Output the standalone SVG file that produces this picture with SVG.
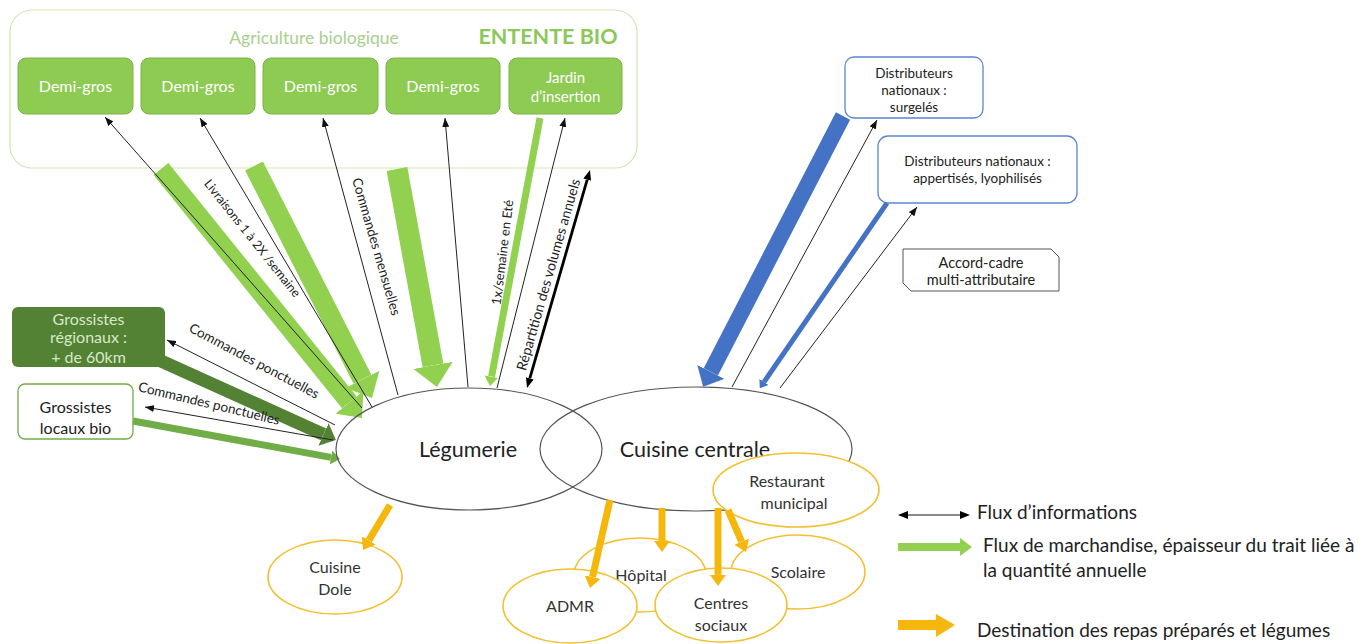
<svg xmlns="http://www.w3.org/2000/svg" width="1366" height="644" viewBox="0 0 1366 644">
<style>
text{font-family:Lato,"Liberation Sans",sans-serif;fill:#222}
.box{fill:#8dcb52;stroke:#7ab444;stroke-width:1}
.bt{fill:#fff;font-size:16px;text-anchor:middle}
.dist{fill:#fff;stroke:#5b86cf;stroke-width:1.3}
.dt{font-size:13.5px;text-anchor:middle}
.yel{fill:#fff;stroke:#f2c030;stroke-width:1.6}
.yt{font-size:16px;text-anchor:middle;fill:#333}
.info{stroke:#222;stroke-width:1;fill:none;marker-end:url(#ah)}
.lbl{font-size:13.5px;text-anchor:middle;fill:#222}
.lg{font-size:19px;fill:#222}
.gr{font-size:16px;text-anchor:middle}
</style>
<defs>
<marker id="ah" viewBox="0 0 10 10" refX="10" refY="5" markerUnits="userSpaceOnUse" markerWidth="9" markerHeight="7" orient="auto" preserveAspectRatio="none"><path d="M0,0L10,5L0,10z" fill="#111"/></marker>
<marker id="ahs" viewBox="0 0 10 10" refX="0" refY="5" markerUnits="userSpaceOnUse" markerWidth="10" markerHeight="8" orient="auto-start-reverse" preserveAspectRatio="none"><path d="M0,0L10,5L0,10z" fill="#000"/></marker>
<marker id="mLg" viewBox="0 0 10 10" refX="0" refY="5" markerUnits="strokeWidth" markerWidth="1.05" markerHeight="1.9" orient="auto" preserveAspectRatio="none"><path d="M0,0L10,5L0,10z" fill="#92d050"/></marker>
<marker id="mDg" viewBox="0 0 10 10" refX="0" refY="5" markerUnits="strokeWidth" markerWidth="1.05" markerHeight="1.9" orient="auto" preserveAspectRatio="none"><path d="M0,0L10,5L0,10z" fill="#548235"/></marker>
<marker id="mMg" viewBox="0 0 10 10" refX="0" refY="5" markerUnits="strokeWidth" markerWidth="1.3" markerHeight="2" orient="auto" preserveAspectRatio="none"><path d="M0,0L10,5L0,10z" fill="#70ad47"/></marker>
<marker id="mBl" viewBox="0 0 10 10" refX="0" refY="5" markerUnits="strokeWidth" markerWidth="1.05" markerHeight="1.9" orient="auto" preserveAspectRatio="none"><path d="M0,0L10,5L0,10z" fill="#4472c4"/></marker>
<marker id="mBn" viewBox="0 0 10 10" refX="0" refY="5" markerUnits="strokeWidth" markerWidth="1.5" markerHeight="2.2" orient="auto" preserveAspectRatio="none"><path d="M0,0L10,5L0,10z" fill="#4472c4"/></marker>
<marker id="mYe" viewBox="0 0 10 10" refX="0" refY="5" markerUnits="strokeWidth" markerWidth="1.6" markerHeight="2.3" orient="auto" preserveAspectRatio="none"><path d="M0,0L10,5L0,10z" fill="#f5b70c"/></marker>
</defs>

<g id="entente-bio">
<rect x="10" y="10" width="627" height="158" rx="22" fill="none" stroke="#cfe6b4" stroke-width="1.2"/>
<text x="314" y="44" text-anchor="middle" style="font-size:17.5px;fill:#a8d08d">Agriculture biologique</text>
<text x="548" y="44" text-anchor="middle" style="font-size:21.5px;font-weight:bold;fill:#8cc75a">ENTENTE BIO</text>
</g>
<g id="demi-gros-1"><rect class="box" x="18" y="58" width="115" height="56" rx="8"/><text class="bt" x="75.5" y="92">Demi-gros</text></g>
<g id="demi-gros-2"><rect class="box" x="141" y="58" width="114" height="56" rx="8"/><text class="bt" x="198" y="92">Demi-gros</text></g>
<g id="demi-gros-3"><rect class="box" x="263" y="58" width="115" height="56" rx="8"/><text class="bt" x="320.5" y="92">Demi-gros</text></g>
<g id="demi-gros-4"><rect class="box" x="386" y="58" width="114" height="56" rx="8"/><text class="bt" x="443" y="92">Demi-gros</text></g>
<g id="jardin"><rect class="box" x="509" y="58" width="113" height="56" rx="8"/><text class="bt" x="565.5" y="83" style="font-size:15px">Jardin</text><text class="bt" x="565.5" y="102" style="font-size:15px">d’insertion</text></g>

<g id="grossistes-regionaux"><rect x="12" y="307" width="153" height="60" rx="6" fill="#548235"/>
<text class="gr" x="88.5" y="325" style="fill:#d6e9c6">Grossistes</text>
<text class="gr" x="88.5" y="343" style="fill:#d6e9c6">régionaux :</text>
<text class="gr" x="88.5" y="363" style="fill:#d6e9c6">+ de 60km</text></g>
<g id="grossistes-locaux"><rect x="18" y="384" width="115" height="55" rx="7" fill="#fff" stroke="#70ad47" stroke-width="1.3"/>
<text class="gr" x="75.5" y="413">Grossistes</text>
<text class="gr" x="75.5" y="434">locaux bio</text></g>

<g id="dist-surgeles"><rect class="dist" x="845" y="57" width="138" height="61" rx="9"/>
<text class="dt" x="914" y="78">Distributeurs</text><text class="dt" x="914" y="95">nationaux :</text><text class="dt" x="914" y="112">surgelés</text></g>
<g id="dist-appertises"><rect class="dist" x="878" y="136" width="199" height="67" rx="10"/>
<text class="dt" x="977.5" y="166">Distributeurs nationaux :</text><text class="dt" x="977.5" y="183">appertisés, lyophilisés</text></g>
<g id="accord-cadre"><path d="M903,249H1051L1059,257V291H911L903,283Z" fill="#fff" stroke="#555" stroke-width="1"/>
<text x="981" y="268" text-anchor="middle" style="font-size:14.5px">Accord-cadre</text>
<text x="981" y="285" text-anchor="middle" style="font-size:14.5px">multi-attributaire</text></g>

<g id="connectors">
<line x1="161" y1="169" x2="349.4" y2="402.4" stroke="#92d050" stroke-width="19" marker-end="url(#mLg)"/>
<line x1="254" y1="166" x2="362.5" y2="379.3" stroke="#92d050" stroke-width="20" marker-end="url(#mLg)"/>
<line x1="397" y1="169" x2="433" y2="365.4" stroke="#92d050" stroke-width="21" marker-end="url(#mLg)"/>
<line x1="540" y1="118" x2="491.6" y2="376.5" stroke="#92d050" stroke-width="7"/>
<path d="M484.5,375.5L490,386L498,378Z" fill="#92d050"/>
<line x1="150" y1="356" x2="323.5" y2="434.4" stroke="#548235" stroke-width="13" marker-end="url(#mDg)"/>
<line x1="133" y1="421" x2="331" y2="457.4" stroke="#70ad47" stroke-width="7" marker-end="url(#mMg)"/>
<line x1="843" y1="116" x2="710.8" y2="371.9" stroke="#4472c4" stroke-width="16" marker-end="url(#mBl)"/>
<line x1="887" y1="203" x2="764" y2="382" stroke="#4472c4" stroke-width="5" marker-end="url(#mBn)"/>

<line class="info" x1="362" y1="408" x2="105" y2="117"/>
<line class="info" x1="372" y1="407" x2="200" y2="118"/>
<line class="info" x1="398" y1="395" x2="323" y2="118"/>
<line class="info" x1="468" y1="387" x2="445" y2="118"/>
<line class="info" x1="497" y1="388" x2="565" y2="118"/>
<line class="info" x1="335" y1="425" x2="167" y2="340"/>
<line class="info" x1="333" y1="440" x2="145" y2="407"/>
<line class="info" x1="732" y1="387" x2="877" y2="120"/>
<line class="info" x1="780" y1="388" x2="917" y2="207"/>
<line x1="529.8" y1="378.4" x2="587.2" y2="179.6" stroke="#000" stroke-width="2.8" marker-start="url(#ahs)" marker-end="url(#ahs)"/>

<text class="lbl" transform="translate(249,241) rotate(51.5)" style="font-size:12.5px">Livraisons 1 à 2X /semaine</text>
<text class="lbl" transform="translate(372,248) rotate(73.7)">Commandes mensuelles</text>
<text class="lbl" transform="translate(507,253) rotate(-83)" style="font-size:13px">1x/semaine en Eté</text>
<text class="lbl" transform="translate(553,276) rotate(-74)" style="font-size:14px">Répartition des volumes annuels</text>
<text class="lbl" transform="translate(252,365) rotate(28)">Commandes ponctuelles</text>
<text class="lbl" transform="translate(208,408) rotate(13.5)">Commandes ponctuelles</text>
</g>

<g id="legumerie"><ellipse cx="469" cy="449" rx="133" ry="61" fill="none" stroke="#555" stroke-width="1.2"/>
<text x="468" y="457" text-anchor="middle" style="font-size:21.5px">Légumerie</text></g>
<g id="cuisine-centrale"><ellipse cx="696" cy="449" rx="156" ry="62" fill="none" stroke="#555" stroke-width="1.2"/>
<text x="695" y="457" text-anchor="middle" style="font-size:21.5px">Cuisine centrale</text></g>

<g id="cuisine-dole"><ellipse class="yel" cx="335" cy="577" rx="67" ry="37"/><text class="yt" x="335" y="573">Cuisine</text><text class="yt" x="335" y="595">Dole</text></g>
<g id="restaurant-municipal"><ellipse class="yel" cx="796" cy="490" rx="83" ry="37"/><text class="yt" x="787" y="487">Restaurant</text><text class="yt" x="794" y="509">municipal</text></g>
<g id="hopital"><ellipse class="yel" cx="640" cy="575" rx="66" ry="37"/><text class="yt" x="641" y="581">Hôpital</text></g>
<g id="scolaire"><ellipse class="yel" cx="798" cy="572" rx="67" ry="37"/><text class="yt" x="798" y="578">Scolaire</text></g>
<g id="admr"><ellipse class="yel" cx="570" cy="606" rx="67" ry="37"/><text class="yt" x="570" y="612">ADMR</text></g>
<g id="centres-sociaux"><ellipse class="yel" cx="721" cy="605" rx="66" ry="37"/><text class="yt" x="721" y="609">Centres</text><text class="yt" x="721" y="631">sociaux</text></g>

<g id="destination-arrows">
<line x1="390" y1="505" x2="368.8" y2="540.4" stroke="#f5b70c" stroke-width="7" marker-end="url(#mYe)"/>
<line x1="610" y1="500" x2="592.5" y2="577.1" stroke="#f5b70c" stroke-width="7" marker-end="url(#mYe)"/>
<line x1="662" y1="508" x2="662" y2="540.8" stroke="#f5b70c" stroke-width="7" marker-end="url(#mYe)"/>
<line x1="718" y1="508" x2="718" y2="574.8" stroke="#f5b70c" stroke-width="7" marker-end="url(#mYe)"/>
<line x1="728" y1="510" x2="741.6" y2="541.7" stroke="#f5b70c" stroke-width="7" marker-end="url(#mYe)"/>
</g>

<g id="legend">
<line x1="908" y1="515" x2="960" y2="515" stroke="#111" stroke-width="1" marker-start="url(#ahs)" marker-end="url(#ahs)"/>
<text class="lg" x="977" y="519">Flux d’informations</text>
<rect x="898" y="543" width="64" height="8" fill="#92d050"/>
<path d="M960,538L972,547L960,556Z" fill="#92d050"/>
<text class="lg" x="983" y="552">Flux de marchandise, épaisseur du trait liée à</text>
<text class="lg" x="983" y="577">la quantité annuelle</text>
<rect x="898" y="620" width="40" height="10" fill="#f5b70c"/>
<path d="M936,614L955,625L936,637Z" fill="#f5b70c"/>
<text class="lg" x="977" y="637">Destination des repas préparés et légumes</text>
</g>
</svg>
